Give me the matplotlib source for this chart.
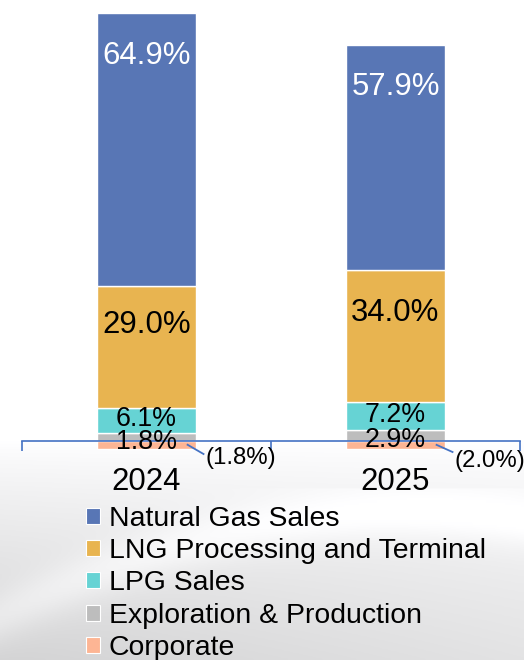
import matplotlib
matplotlib.use('Agg')
import matplotlib.pyplot as plt
import numpy as np
from matplotlib.patches import Patch

plt.rcParams['font.family'] = ['Liberation Sans', 'DejaVu Sans']

# ---- data ----
years = ['2024', '2025']
segment_names = ['Natural Gas Sales', 'LNG Processing and Terminal', 'LPG Sales',
                 'Exploration & Production', 'Corporate']
natural_gas = [64.9, 57.9]
lng = [29.0, 34.0]
lpg = [6.1, 7.2]
exploration = [1.8, 2.9]
corporate = [-1.8, -2.0]
bar_scale = [100.0, 92.4]   # relative overall size of each year's bar

# ---- style ----
colors = {
    'Natural Gas Sales': '#5876B5',
    'LNG Processing and Terminal': '#E8B450',
    'LPG Sales': '#66D3D4',
    'Exploration & Production': '#BDBDBD',
    'Corporate': '#FDB594',
}
axis_blue = '#4472C4'

fig = plt.figure(figsize=(5.24, 6.6), dpi=100)

# background gradient
bg = fig.add_axes([0, 0, 1, 1], zorder=-10)
yy, xx = np.mgrid[0:1:300j, 0:1:240j]
shade = np.clip((yy - 0.67) / 0.33, 0, 1) ** 0.8
val = 1.0 - 0.17 * shade * (1 - 0.35 * xx)
swoosh = np.exp(-((yy - (0.86 - 0.12 * xx + 0.25 * (xx - 0.55) ** 2)) / 0.04) ** 2)
val = np.clip(val + 0.06 * swoosh * (yy > 0.74), 0, 1)
bg.imshow(np.dstack([val, val, np.clip(val + 0.004, 0, 1)]), aspect='auto',
          extent=[0, 1, 0, 1], origin='upper')
bg.axis('off')

ax = fig.add_axes([22 / 524, 0.30, 498 / 524, 0.6942])
ax.set_facecolor('none')
ax.set_xlim(-0.5, 1.5)
ax.set_ylim(-5, 104)

x = np.arange(len(years))
scale = np.array(bar_scale) / 100.0
width = 0.398

e = np.array(exploration) * scale
lp = np.array(lpg) * scale
ln = np.array(lng) * scale
ng = np.array(natural_gas) * scale
co = np.array(corporate) * scale

kw = dict(width=width, edgecolor='white', linewidth=1.0, zorder=2)
ax.bar(x, e, bottom=0, color=colors['Exploration & Production'], **kw)
ax.bar(x, lp, bottom=e, color=colors['LPG Sales'], **kw)
ax.bar(x, ln, bottom=e + lp, color=colors['LNG Processing and Terminal'], **kw)
ax.bar(x, ng, bottom=e + lp + ln, color=colors['Natural Gas Sales'], **kw)
ax.bar(x, co, bottom=0, color=colors['Corporate'], **kw)

big = 22.4
small = 19.3
for i in range(len(years)):
    top = e[i] + lp[i] + ln[i] + ng[i]
    ax.text(x[i], top - 12.0, f'{natural_gas[i]:.1f}%', ha='center', va='baseline',
            color='white', fontsize=big, zorder=5)
    c_ln = e[i] + lp[i] + ln[i] / 2
    ax.text(x[i], c_ln + 3.4, f'{lng[i]:.1f}%', ha='center', va='baseline',
            color='black', fontsize=big, zorder=5)
    c_lp = e[i] + lp[i] / 2
    ax.text(x[i], c_lp - 1.4, f'{lpg[i]:.1f}%', ha='center', va='baseline',
            color='black', fontsize=small, zorder=5)
    c_e = e[i] / 2
    ax.text(x[i], c_e - 2.7, f'{exploration[i]:.1f}%', ha='center', va='baseline',
            color='black', fontsize=small, zorder=5)
    # corporate callout
    x0, y0 = x[i] + 0.165, co[i] / 2
    dx = [0.064, 0.064][i]
    dy = [-2.2, -1.7][i]
    ax.plot([x0, x0 + dx], [y0, y0 + dy], color=axis_blue, lw=1.3, zorder=4,
            clip_on=False)
    ax.text(x0 + dx + 0.006, y0 + dy - [2.4, 3.6][i],
            f'({abs(corporate[i]):.1f}%)', ha='left', va='baseline', fontsize=17.3,
            color='black', zorder=5)
    # category label
    ax.text(x[i], -11.66, years[i], ha='center', va='baseline', fontsize=big,
            color='black', zorder=5)

for s in ['top', 'right', 'left']:
    ax.spines[s].set_visible(False)
ax.spines['bottom'].set_position(('data', 0))
ax.spines['bottom'].set_color(axis_blue)
ax.spines['bottom'].set_linewidth(1.2)
ax.spines['bottom'].set_zorder(3)
ax.set_xticks([-0.5, 0.5, 1.5])
ax.set_xticklabels([])
ax.tick_params(axis='x', direction='out', length=7.5, width=1.2, color=axis_blue)
ax.set_yticks([])

handles = [Patch(facecolor=colors[n], edgecolor='white', linewidth=0.8, label=n)
           for n in segment_names]
fig.legend(handles=handles, loc='upper left', bbox_to_anchor=(86 / 524, 1 - 506 / 660),
           frameon=False, fontsize=20.4, handlelength=0.5, handleheight=0.5,
           handletextpad=0.3, labelspacing=0.22, borderpad=0, borderaxespad=0)

fig.savefig('out.png', dpi=100)
